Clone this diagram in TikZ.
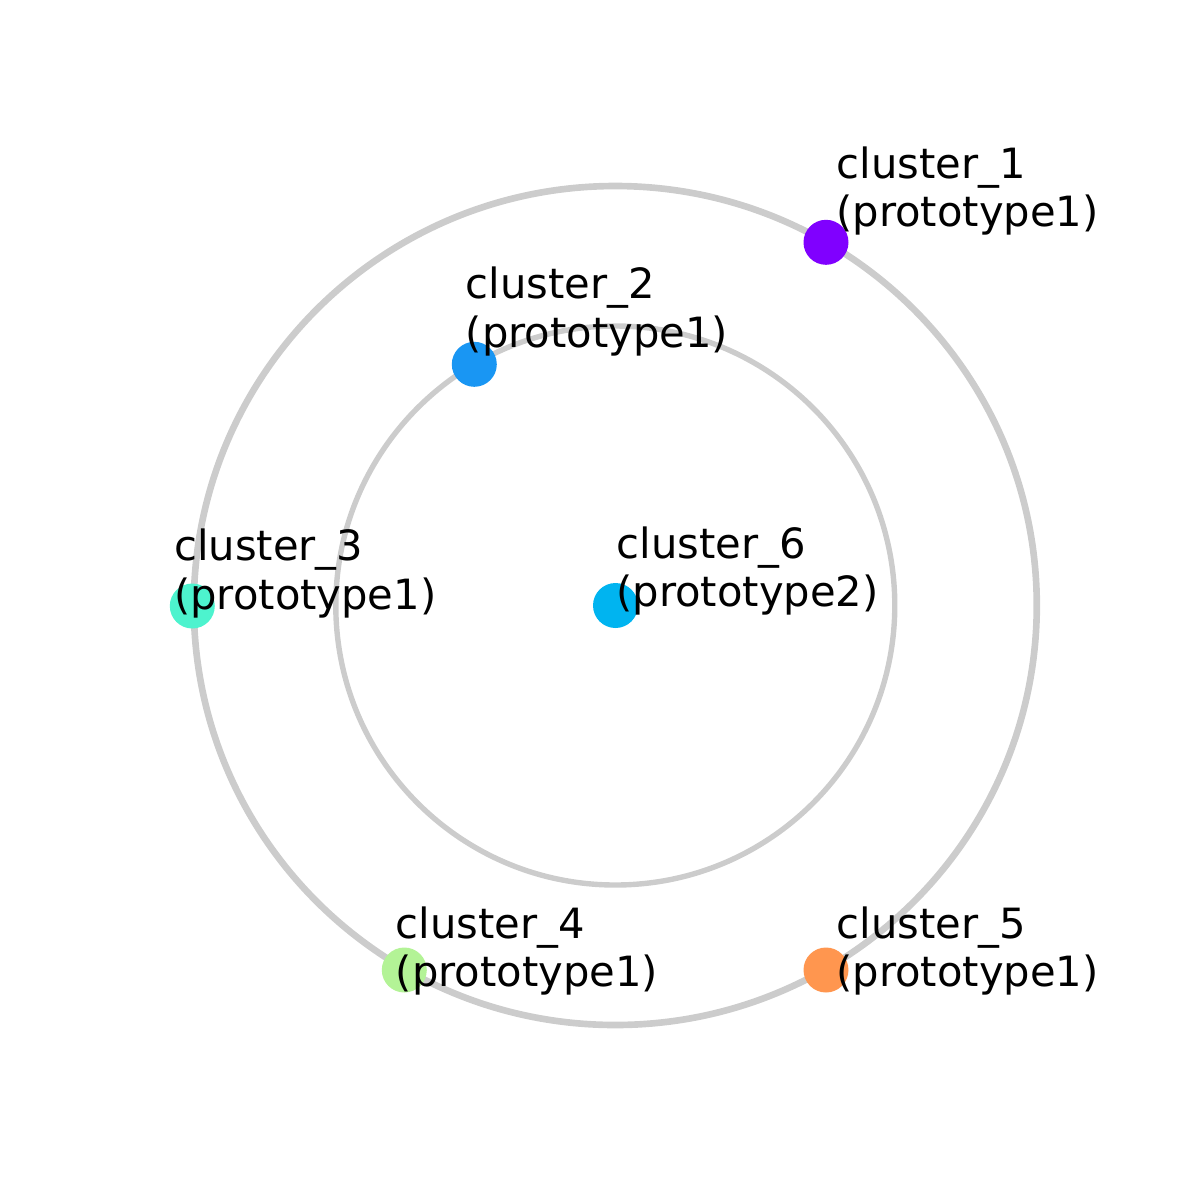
\documentclass[tikz,border=0pt]{standalone}
\usepackage{fontspec}
\setmainfont{DejaVu Sans}
\definecolor{ringgray}{HTML}{CCCCCC}
\definecolor{cA}{HTML}{8000FF}
\definecolor{cB}{HTML}{1996F3}
\definecolor{cC}{HTML}{4DF3CE}
\definecolor{cD}{HTML}{B3F396}
\definecolor{cE}{HTML}{FF964F}
\definecolor{cF}{HTML}{00B4F0}
\newcommand{\twolines}[2]{\vbox{\hbox{#1}\hbox{#2}}}
\tikzset{
  ring/.style={draw=ringgray},
  dot/.style={circle, fill=#1, draw=none, minimum size=10.84pt, inner sep=0pt, outer sep=0pt},
  lbl/.style={anchor=base west, inner sep=0pt, outer sep=0pt,
    font=\fontsize{10.04}{11.68}\selectfont}
}
\begin{document}
\begin{tikzpicture}[x=0.2409pt, y=-0.2409pt]
\useasboundingbox (0,0) rectangle (1200,1200);
\coordinate (ctr) at (615.3,605.5);
\draw[ring, line width=1.6pt] (ctr) ellipse [x radius=421.5, y radius=419.5];
\draw[ring, line width=1.3pt] (ctr) circle [radius=279.5];
\node[dot=cA] (d1) at (826,242.3) {};
\node[dot=cB] (d2) at (474.3,364.3) {};
\node[dot=cC] (d3) at (192.3,606) {};
\node[dot=cD] (d4) at (404.3,970) {};
\node[dot=cE] (d5) at (826,970) {};
\node[dot=cF] (d6) at (615.5,605.5) {};
\node[lbl] (l1) at (836.5,226.7) {\twolines{cluster\_1}{(prototype1)}};
\node[lbl] (l2) at (465.9,347.3) {\twolines{cluster\_2}{(prototype1)}};
\node[lbl] (l3) at (174.2,609.3) {\twolines{cluster\_3}{(prototype1)}};
\node[lbl] (l4) at (395.9,986.7) {\twolines{cluster\_4}{(prototype1)}};
\node[lbl] (l5) at (836.5,986.5) {\twolines{cluster\_5}{(prototype1)}};
\node[lbl] (l6) at (616.5,606.7) {\twolines{cluster\_6}{(prototype2)}};
\end{tikzpicture}
\end{document}
